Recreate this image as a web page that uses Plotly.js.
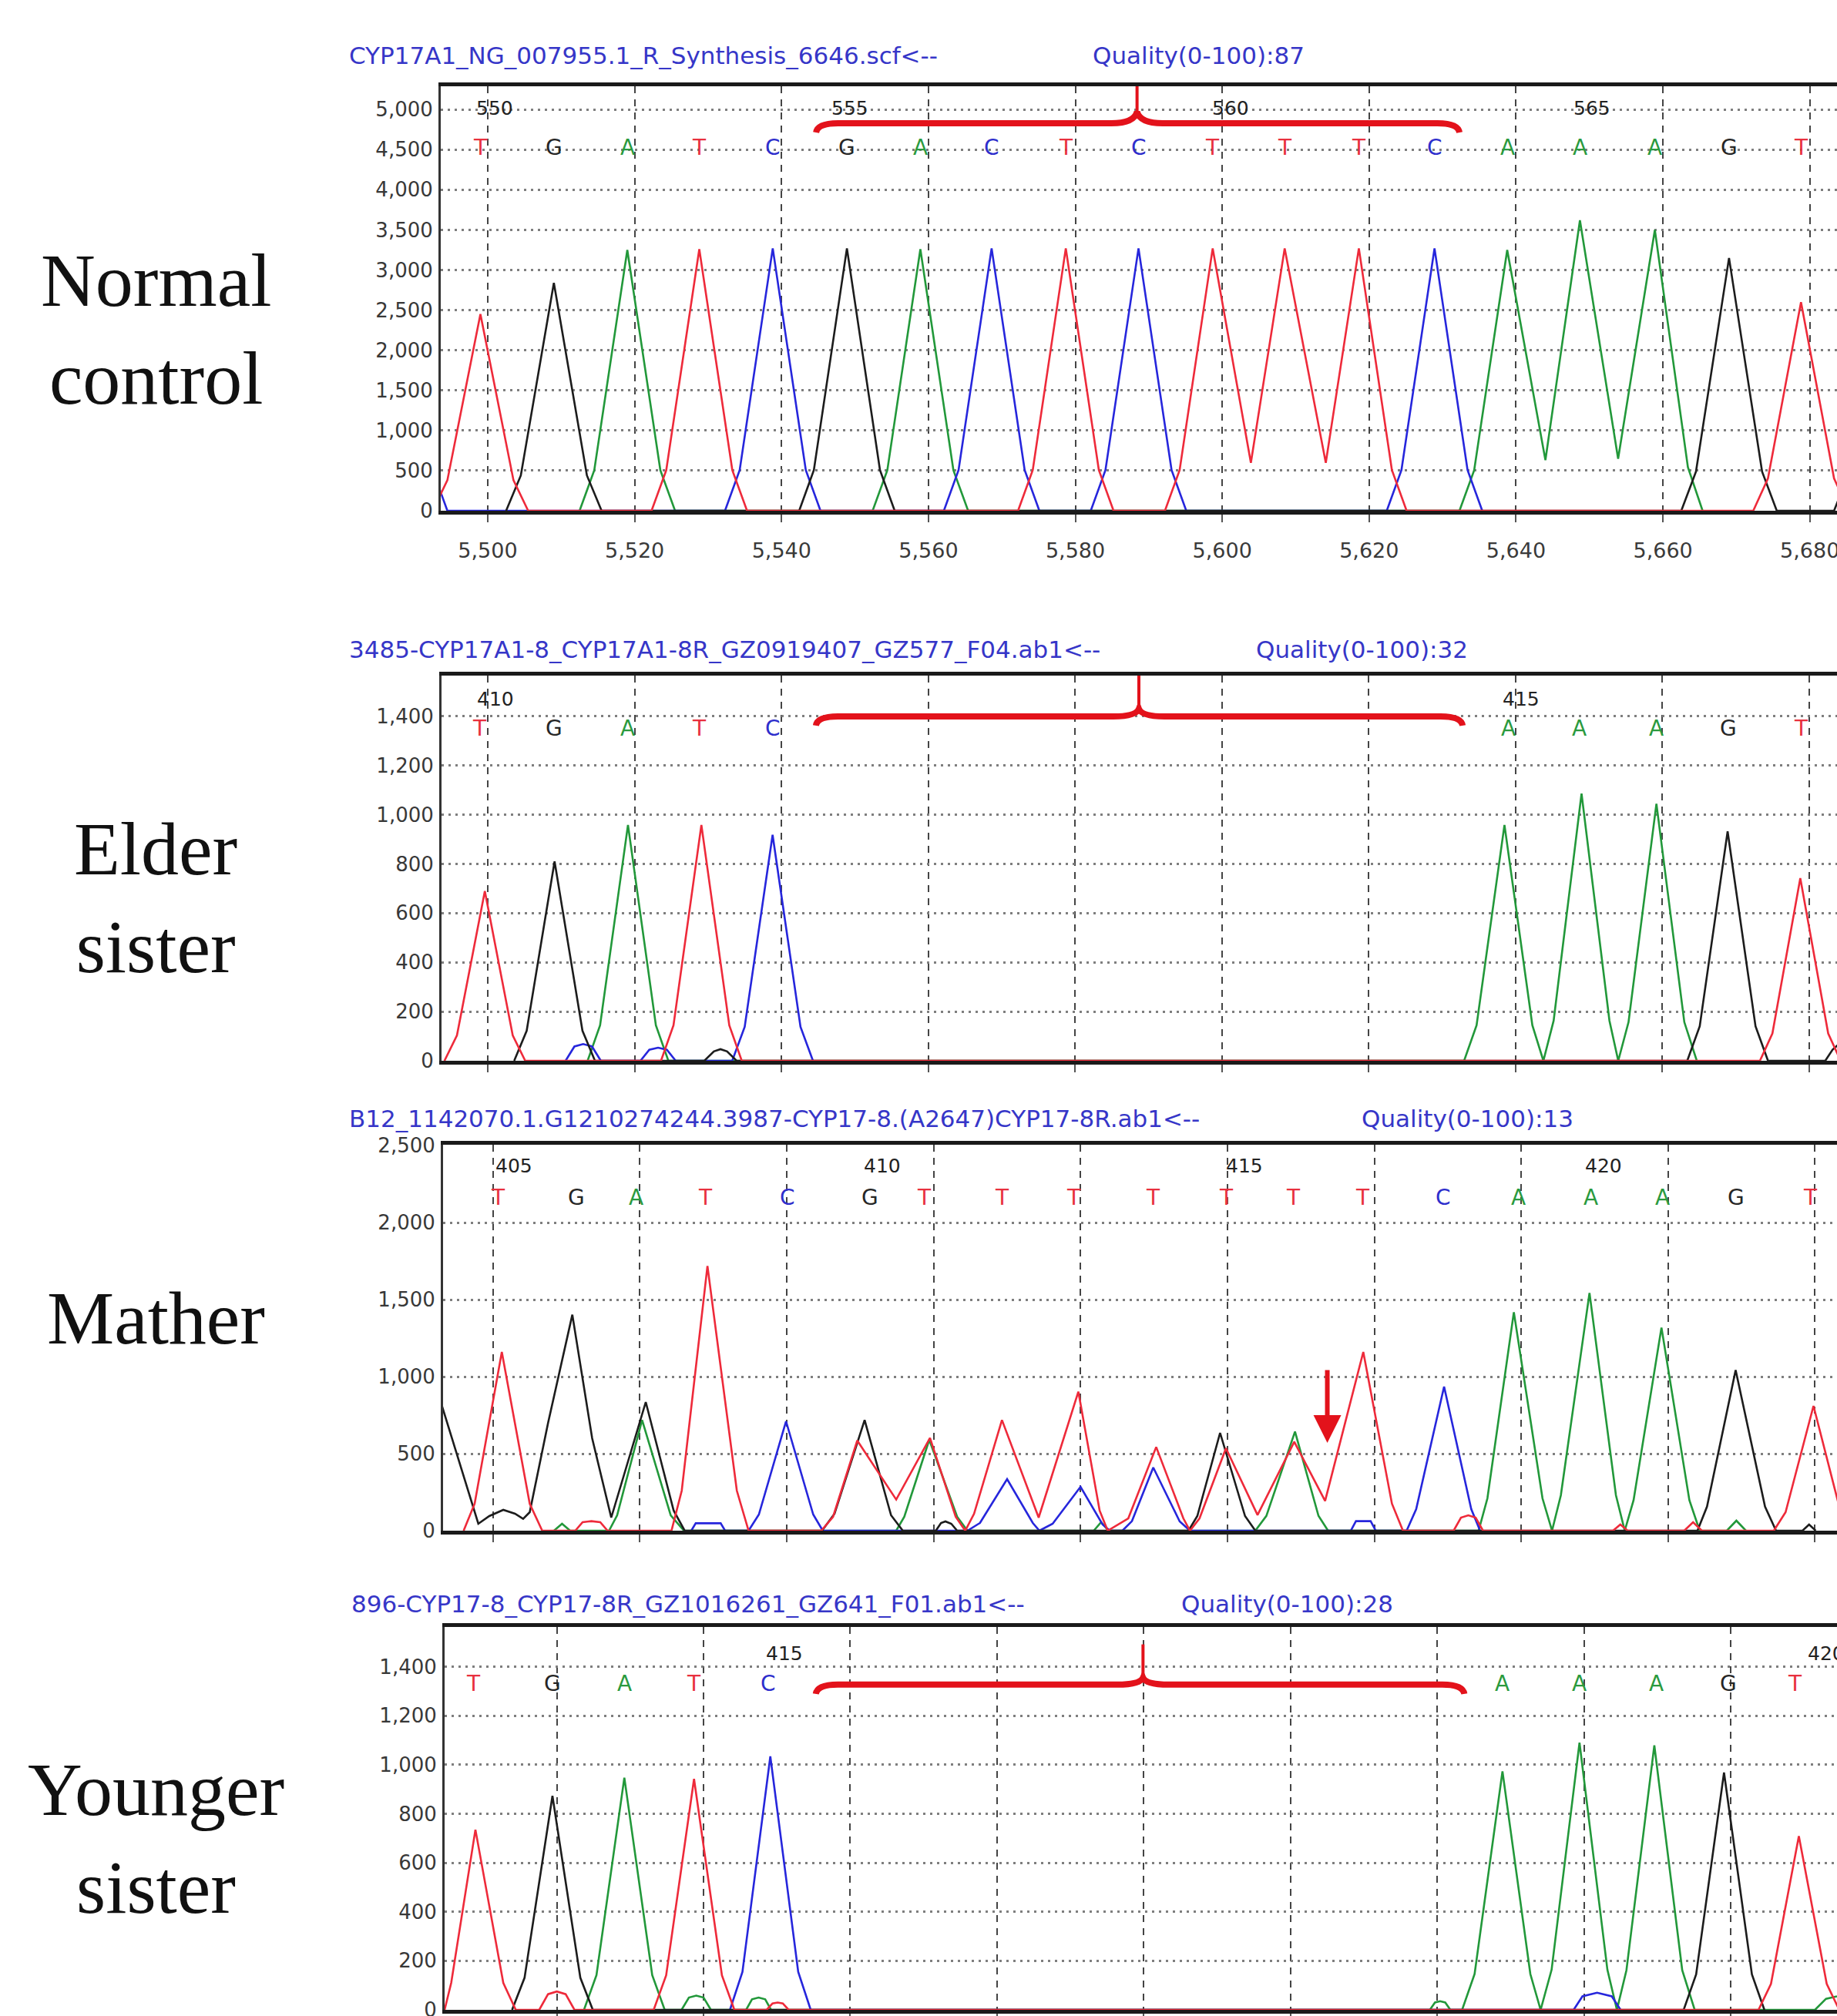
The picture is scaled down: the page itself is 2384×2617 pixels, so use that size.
<!DOCTYPE html>
<html>
<head>
<meta charset="utf-8">
<script src="https://cdn.plot.ly/plotly-3.0.1.min.js"></script>
<style>
html,body{margin:0;padding:0;background:#fff;}
#chart{width:2384px;height:2617px;}
</style>
</head>
<body>
<div id="chart"></div>
<script>
// ---------------- DATA ----------------
// Panel 1 : Normal control  (scan numbers 5,500 ... 5,680)
const p1Bases   = ['T','G','A','T','C','G','A','C','T','C','T','T','T','C','A','A','A','G','T'];
const p1BasePos = [5499.0,5509.0,5519.0,5528.8,5538.8,5548.9,5558.9,5568.6,5578.7,5588.6,5598.7,5608.5,5618.6,5628.9,5638.8,5648.7,5658.9,5669.0,5678.8];
const p1Nums    = ['550','555','560','565'];
const p1NumPos  = [5500.9,5549.3,5601.1,5650.3];
const p1T_x = [5492.5,5494.5,5499.0,5503.5,5505.5, 5522.3,5524.3,5528.8,5533.3,5535.3, 5572.2,5574.2,5578.7,5583.2,5585.2, 5592.2,5594.2,5598.7,5603.9,5608.5,5614.1,5618.6,5623.1,5625.1, 5672.3,5674.3,5678.8,5683.3,5685.3];
const p1T_y = [0,380,2450,380,0, 0,505,3260,505,0, 0,507,3270,507,0, 0,507,3270,597,3270,597,3270,507,0, 0,403,2600,403,0];
const p1G_x = [5502.5,5504.5,5509.0,5513.5,5515.5, 5542.4,5544.4,5548.9,5553.4,5555.4, 5662.5,5664.5,5669.0,5673.5,5675.5, 5683.3,5685.3,5689.8];
const p1G_y = [0,440,2840,440,0, 0,507,3270,507,0, 0,488,3150,488,0, 0,465,3000];
const p1A_x = [5512.5,5514.5,5519.0,5523.5,5525.5, 5552.4,5554.4,5558.9,5563.4,5565.4, 5632.3,5634.3,5638.8,5644.0,5648.7,5653.9,5658.9,5663.4,5665.4];
const p1A_y = [0,504,3250,504,0, 0,505,3260,505,0, 0,504,3250,631,3620,648,3500,543,0];
const p1C_x = [5483.5,5488.0,5492.5,5494.5, 5532.3,5534.3,5538.8,5543.3,5545.3, 5562.1,5564.1,5568.6,5573.1,5575.1, 5582.1,5584.1,5588.6,5593.1,5595.1, 5622.4,5624.4,5628.9,5633.4,5635.4];
const p1C_y = [507,3270,507,0, 0,507,3270,507,0, 0,507,3270,507,0, 0,507,3270,507,0, 0,507,3270,507,0];

// Panel 2 : Elder sister
const p2Bases   = ['T','G','A','T','C','A','A','A','G','T'];
const p2BasePos = [5498.9,5509.0,5519.0,5528.8,5538.8,5639.0,5648.7,5659.2,5669.0,5678.9];
const p2Nums    = ['410','415'];
const p2NumPos  = [5501.0,5640.8];
const p2T_x = [5494.1,5495.8,5499.6,5503.4,5505.1, 5523.6,5525.3,5529.1,5532.9,5534.6, 5673.3,5675.0,5678.8,5682.6,5684.3];
const p2T_y = [0,103,689,103,0, 0,144,958,144,0, 0,111,742,111,0];
const p2G_x = [5503.6,5505.3,5509.1,5512.9,5514.6, 5529.5,5530.8,5531.7,5532.6,5533.9, 5663.4,5665.1,5668.9,5672.7,5674.4, 5682.2,5683.2,5684.5];
const p2G_y = [0,122,810,122,0, 0,38,47,38,0, 0,140,932,140,0, 0,45,80];
const p2A_x = [5513.6,5515.3,5519.1,5522.9,5524.6, 5633.0,5634.7,5638.5,5642.3,5643.8,5645.2,5649.0,5652.8,5654.0,5655.4,5659.2,5663.0,5664.7];
const p2A_y = [0,144,958,144,0, 0,144,958,144,0,163,1086,163,0,157,1044,157,0];
const p2C_x = [5510.6,5511.8,5513.0,5514.2,5515.4, 5520.8,5522.0,5523.2,5524.4,5525.6, 5533.3,5535.0,5538.8,5542.6,5544.3];
const p2C_y = [0,58,68,58,0, 0,45,53,45,0, 0,138,918,138,0];

// Panel 3 : Mather
const p3Bases   = ['T','G','A','T','C','G','T','T','T','T','T','T','T','C','A','A','A','G','T'];
const p3BasePos = [5500.7,5511.4,5519.5,5528.9,5540.1,5551.3,5558.7,5569.3,5579.1,5589.9,5599.9,5609.0,5618.4,5629.4,5639.6,5649.5,5659.2,5669.3,5679.4];
const p3Nums    = ['405','410','415','420'];
const p3NumPos  = [5502.8,5553.0,5602.3,5651.2];
const p3G_x = [5491.5,5493.0,5498.0,5499.5,5501.4,5503.0,5504.1,5505.0,5507.5,5510.8,5513.5,5516.1,5518.4,5520.8,5524.6,5526.1, 5544.8,5546.5,5550.6,5554.2,5555.8, 5560.3,5561.0,5561.6,5562.4,5563.2, 5594.7,5595.9,5599.0,5602.4,5603.8, 5664.0,5665.3,5669.2,5673.2,5674.7, 5678.3,5679.2,5680.1];
const p3G_y = [1049,818,45,95,135,110,77,120,700,1402,600,85,450,835,130,0, 0,110,718,100,0, 0,50,60,45,0, 0,95,635,95,0, 0,156,1043,156,0, 0,40,0];
const p3T_x = [5496.0,5497.5,5501.2,5505.0,5506.7, 5511.2,5512.2,5513.4,5514.6,5515.6, 5524.3,5525.7,5529.2,5533.2,5534.8, 5544.7,5546.3,5549.6,5554.9,5559.5,5563.0,5564.3,5565.5,5569.3,5574.3,5579.7,5582.6,5583.7,5586.5,5590.3,5594.0,5594.9,5596.2,5599.8,5604.1,5609.1,5613.3,5618.5,5622.4,5623.9, 5630.8,5631.8,5632.8,5633.8,5634.8, 5652.5,5653.5,5654.5, 5662.2,5663.4,5664.6, 5674.4,5676.0,5679.8,5683.5,5685.0];
const p3T_y = [0,175,1160,175,0, 0,55,62,55,0, 0,260,1718,260,0, 0,90,585,202,602,90,0,110,718,85,902,130,0,80,543,80,0,80,535,102,577,193,1160,175,0, 0,85,100,85,0, 0,40,0, 0,55,0, 0,120,810,120,0];
const p3A_x = [5508.3,5509.4,5510.5, 5515.8,5516.9,5520.3,5524.2,5526.0, 5554.9,5556.0,5559.4,5563.2,5564.6, 5581.8,5582.8,5583.8, 5603.8,5605.3,5609.2,5612.4,5613.7, 5634.2,5635.4,5639.0,5642.9,5644.2,5645.4,5649.3,5652.9,5654.1,5655.3,5659.1,5662.9,5664.3, 5668.0,5669.3,5670.6];
const p3A_y = [0,45,0, 0,100,718,100,0, 0,90,590,90,0, 0,55,0, 0,96,643,96,0, 0,210,1418,210,0,230,1543,230,0,198,1318,198,0, 0,65,0];
const p3C_x = [5527.0,5527.6,5531.0,5531.6, 5534.8,5536.2,5539.9,5543.6,5544.9, 5564.6,5566.3,5570.0,5573.5,5574.4,5576.2,5580.0,5583.0,5584.0, 5585.7,5587.0,5589.9,5593.5,5594.9, 5616.8,5617.5,5619.5,5620.2, 5624.4,5625.7,5629.5,5633.2,5634.4];
const p3C_y = [0,48,48,0, 0,105,710,105,0, 0,50,335,50,0,45,285,40,0, 0,62,410,60,0, 0,62,62,0, 0,140,935,140,0];

// Panel 4 : Younger sister
const p4Bases   = ['T','G','A','T','C','A','A','A','G','T'];
const p4BasePos = [5488.6,5499.4,5509.2,5518.7,5528.8,5628.9,5639.4,5649.9,5659.7,5668.8];
const p4Nums    = ['415','420'];
const p4NumPos  = [5531.0,5673.0];
const p4T_x = [5484.7,5485.6,5488.9,5492.7,5494.4, 5497.6,5498.8,5500.0,5501.2,5502.4, 5513.2,5514.9,5518.7,5522.5,5524.2, 5528.6,5529.4,5530.1,5530.8,5531.6, 5663.8,5665.5,5669.3,5673.1,5674.8];
const p4T_y = [0,110,735,110,0, 0,64,75,64,0, 0,141,942,141,0, 0,26,30,26,0, 0,106,709,106,0];
const p4G_x = [5493.9,5495.6,5499.4,5503.2,5504.9, 5653.6,5655.3,5659.1,5662.9,5664.6];
const p4G_y = [0,131,873,131,0, 0,145,968,145,0];
const p4A_x = [5503.7,5505.4,5509.2,5513.0,5514.7, 5517.0,5518.0,5519.0,5520.0,5521.0, 5525.8,5526.6,5527.5,5528.4,5529.2, 5619.0,5619.7,5620.4,5621.1,5621.8, 5623.4,5625.1,5628.9,5632.7,5634.1,5635.6,5639.4,5643.2,5644.5,5645.8,5649.6,5653.4,5655.1, 5671.5,5673.0,5674.5];
const p4A_y = [0,142,947,142,0, 0,50,58,50,0, 0,43,50,43,0, 0,30,35,30,0, 0,146,973,146,0,164,1090,164,0,162,1079,162,0, 0,45,55];
const p4C_x = [5523.6,5525.3,5529.1,5532.9,5534.6, 5638.6,5639.8,5641.8,5643.8,5645.0];
const p4C_y = [0,155,1034,155,0, 0,55,70,55,0];

// Side labels and file titles
const sideLabels = ['Normal<br>control','Elder<br>sister','Mather','Younger<br>sister'];
const fileNames  = ['CYP17A1_NG_007955.1_R_Synthesis_6646.scf<--',
                    '3485-CYP17A1-8_CYP17A1-8R_GZ0919407_GZ577_F04.ab1<--',
                    'B12_1142070.1.G1210274244.3987-CYP17-8.(A2647)CYP17-8R.ab1<--',
                    '896-CYP17-8_CYP17-8R_GZ1016261_GZ641_F01.ab1<--'];
const qualities  = ['Quality(0-100):87','Quality(0-100):32','Quality(0-100):13','Quality(0-100):28'];

// ---------------- BUILD ----------------
const TRACE_COL  = {A:'#22983a', C:'#2626dc', G:'#1c1c1c', T:'#ee2a3a'};
const LETTER_COL = {A:'#2a9a3e', C:'#2e2ecc', G:'#262626', T:'#e8303e'};
const W = 2384, H = 2617;
const py = p => 1 - p / H;   // pixel row -> paper y
const px = p => p / W;

const panels = [
  {xa:'x',  ya:'y',  tr:{A:[p1A_x,p1A_y],C:[p1C_x,p1C_y],G:[p1G_x,p1G_y],T:[p1T_x,p1T_y]}, bases:p1Bases, basePos:p1BasePos, baseY:4522, nums:p1Nums, numPos:p1NumPos, numY:5021,
   xdom:[px(572),1], ydom:[py(663),py(112)], xr:[5493.6,5683.7], yr:[0,5290], dy:500, xlabels:true,
   sideY:428, titleY:72, titleX:451, qX:1416},
  {xa:'x2', ya:'y2', tr:{A:[p2A_x,p2A_y],C:[p2C_x,p2C_y],G:[p2G_x,p2G_y],T:[p2T_x,p2T_y]}, bases:p2Bases, basePos:p2BasePos, baseY:1352, nums:p2Nums, numPos:p2NumPos, numY:1471,
   xdom:[px(573),1], ydom:[py(1377),py(877)], xr:[5493.7,5683.8], yr:[0,1565], dy:200, xlabels:false,
   sideY:1165, titleY:843, titleX:451, qX:1628},
  {xa:'x3', ya:'y3', tr:{A:[p3A_x,p3A_y],C:[p3C_x,p3C_y],G:[p3G_x,p3G_y],T:[p3T_x,p3T_y]}, bases:p3Bases, basePos:p3BasePos, baseY:2162, nums:p3Nums, numPos:p3NumPos, numY:2366,
   xdom:[px(575),1], ydom:[py(1987),py(1486)], xr:[5493.2,5683.0], yr:[0,2505], dy:500, xlabels:false,
   sideY:1711, titleY:1452, titleX:451, qX:1765},
  {xa:'x4', ya:'y4', tr:{A:[p4A_x,p4A_y],C:[p4C_x,p4C_y],G:[p4G_x,p4G_y],T:[p4T_x,p4T_y]}, bases:p4Bases, basePos:p4BasePos, baseY:1330, nums:p4Nums, numPos:p4NumPos, numY:1453,
   xdom:[px(577),1], ydom:[py(2609),py(2112)], xr:[5484.7,5674.5], yr:[0,1562], dy:200, xlabels:false,
   sideY:2386, titleY:2082, titleX:454, qX:1531}
];

const traces = [];
const annotations = [];
const shapes = [];
const layout = {
  width: W, height: H,
  margin: {l:0, r:0, t:0, b:0},
  paper_bgcolor: '#ffffff', plot_bgcolor: '#ffffff',
  showlegend: false,
  font: {family: 'DejaVu Sans', color: '#333'}
};

panels.forEach((p, i) => {
  const xk = i === 0 ? 'xaxis' : 'xaxis' + (i + 1);
  const yk = i === 0 ? 'yaxis' : 'yaxis' + (i + 1);
  layout[xk] = {
    domain: p.xdom, range: p.xr, anchor: p.ya,
    tick0: 5500, dtick: 20, tickformat: ',d',
    showgrid: true, gridcolor: '#444', gridwidth: 2, griddash: '9px,8px',
    zeroline: false, showline: true, linecolor: '#1a1a1a', linewidth: 5, mirror: true,
    ticks: 'outside', ticklen: 10, tickwidth: 2, tickcolor: '#555',
    showticklabels: p.xlabels, ticklabelstandoff: 14, ticklabeloverflow: 'allow',
    tickfont: {family: 'DejaVu Sans', size: 27, color: '#3a3a3a'},
    fixedrange: true
  };
  layout[yk] = {
    domain: p.ydom, range: p.yr, anchor: p.xa,
    tick0: 0, dtick: p.dy, tickformat: ',d',
    showgrid: true, gridcolor: '#7e7e7e', gridwidth: 3, griddash: '3px,6px',
    zeroline: false, showline: true, linecolor: '#333', linewidth: 3,
    ticks: '', ticklabelstandoff: 2, ticklabeloverflow: 'allow',
    tickfont: {family: 'DejaVu Sans', size: 26, color: '#383838'},
    fixedrange: true
  };

  ['A','C','G','T'].forEach(b => {
    traces.push({
      type: 'scatter', mode: 'lines',
      x: p.tr[b][0], y: p.tr[b][1],
      xaxis: p.xa, yaxis: p.ya,
      line: {color: TRACE_COL[b], width: 2.6},
      hoverinfo: 'skip', showlegend: false
    });
  });

  p.bases.forEach((b, k) => {
    annotations.push({
      xref: p.xa, yref: p.ya, x: p.basePos[k], y: p.baseY,
      text: b, showarrow: false, xanchor: 'center', yanchor: 'middle',
      font: {family: 'DejaVu Sans', size: 28, color: LETTER_COL[b]}
    });
  });
  p.nums.forEach((n, k) => {
    annotations.push({
      xref: p.xa, yref: p.ya, x: p.numPos[k], y: p.numY,
      text: n, showarrow: false, xanchor: 'center', yanchor: 'middle',
      font: {family: 'DejaVu Sans', size: 25, color: '#222'}
    });
  });

  annotations.push({
    xref: 'paper', yref: 'paper', x: px(202), y: py(p.sideY),
    text: sideLabels[i], showarrow: false, xanchor: 'center', yanchor: 'middle',
    font: {family: 'Liberation Serif, Times New Roman, serif', size: 98, color: '#111'}
  });
  annotations.push({
    xref: 'paper', yref: 'paper', x: px(p.titleX), y: py(p.titleY),
    text: fileNames[i], showarrow: false, xanchor: 'left', yanchor: 'middle',
    font: {family: 'DejaVu Sans', size: 31, color: '#3636c8'}
  });
  annotations.push({
    xref: 'paper', yref: 'paper', x: px(p.qX), y: py(p.titleY),
    text: qualities[i], showarrow: false, xanchor: 'left', yanchor: 'middle',
    font: {family: 'DejaVu Sans', size: 31, color: '#3636c8'}
  });
});

// red braces marking the deleted bases (panels 1, 2, 4)
const braces = [
  {xa:'x',  ya:'y',  x0:5544.7, xm:5588.4, x1:5632.3, yTip:4714, yH:4829, yCusp:4973, yTop:5400},
  {xa:'x2', ya:'y2', x0:5544.7, xm:5588.7, x1:5632.8, yTip:1362, yH:1399, yCusp:1430, yTop:1565},
  {xa:'x4', ya:'y4', x0:5535.3, xm:5579.9, x1:5623.7, yTip:1289, yH:1327, yCusp:1355, yTop:1491}
];
braces.forEach(b => {
  const path = `M${b.x0},${b.yTip} Q${b.x0+0.2},${b.yH} ${b.x0+3},${b.yH} L${b.xm-3.5},${b.yH} Q${b.xm-0.4},${b.yH} ${b.xm},${b.yCusp} Q${b.xm+0.4},${b.yH} ${b.xm+3.5},${b.yH} L${b.x1-3},${b.yH} Q${b.x1-0.2},${b.yH} ${b.x1},${b.yTip}`;
  shapes.push({type:'path', xref:b.xa, yref:b.ya, path:path, line:{color:'#e3121b', width:8}, layer:'above'});
  shapes.push({type:'line', xref:b.xa, yref:b.ya, x0:b.xm, x1:b.xm, y0:b.yCusp, y1:b.yTop, line:{color:'#e3121b', width:4}, layer:'above'});
});

// red arrow in the mother's trace
annotations.push({
  xref:'x3', yref:'y3', x:5613.6, y:570, ax:0, ay:-96,
  text:'', showarrow:true, arrowhead:2, arrowsize:1.2, arrowwidth:6, arrowcolor:'#e3121b', standoff:0
});

layout.annotations = annotations;
layout.shapes = shapes;

Plotly.newPlot('chart', traces, layout, {staticPlot:true, displayModeBar:false});
</script>
</body>
</html>
